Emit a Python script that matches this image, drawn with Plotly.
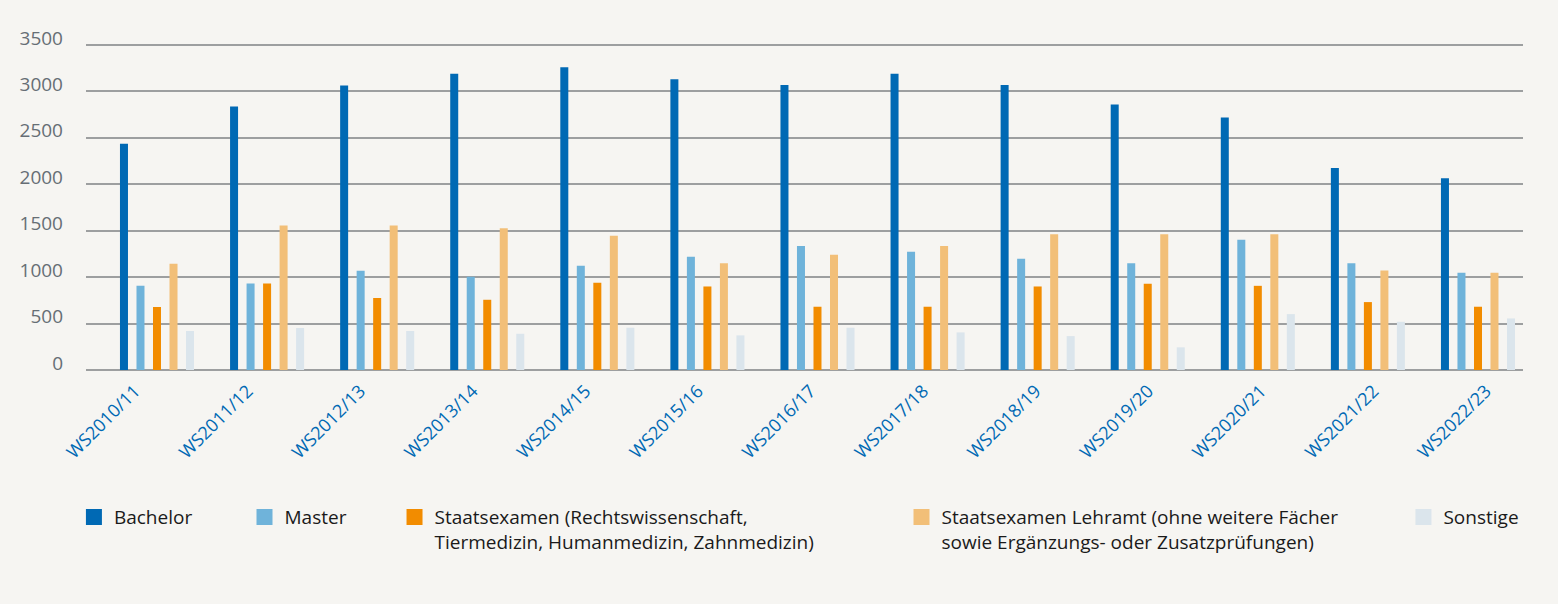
import plotly.graph_objects as go

# Wintersemester
semesters = ["WS2010/11", "WS2011/12", "WS2012/13", "WS2013/14", "WS2014/15",
             "WS2015/16", "WS2016/17", "WS2017/18", "WS2018/19", "WS2019/20",
             "WS2020/21", "WS2021/22", "WS2022/23"]

bachelor = [2435, 2837, 3063, 3188, 3260, 3131, 3067, 3188, 3067, 2859, 2719, 2175, 2063]
master = [907, 932, 1069, 1003, 1121, 1218, 1336, 1272, 1197, 1150, 1401, 1150, 1046]
staatsexamen = [678, 932, 775, 756, 939, 899, 681, 681, 899, 928, 906, 731, 681]
lehramt = [1144, 1556, 1556, 1526, 1444, 1150, 1240, 1336, 1462, 1462, 1462, 1071, 1046]
sonstige = [420, 452, 420, 390, 455, 373, 455, 405, 365, 244, 602, 519, 555]

y_ticks = [0, 500, 1000, 1500, 2000, 2500, 3000, 3500]

series = [
    ("Bachelor", bachelor, "#0069b4"),
    ("Master", master, "#6fb3da"),
    ("Staatsexamen (Rechtswissenschaft,<br>Tiermedizin, Humanmedizin, Zahnmedizin)", staatsexamen, "#f28c00"),
    ("Staatsexamen Lehramt (ohne weitere Fächer<br>sowie Ergänzungs- oder Zusatzprüfungen)", lehramt, "#f2bf78"),
    ("Sonstige", sonstige, "#dbe5ec"),
]

# x position of each legend block (paper coords)
legend_x = [-0.0084, 0.1103, 0.2147, 0.5675, 0.9168]

fig = go.Figure()

for i, (name, values, color) in enumerate(series):
    leg = "legend" if i == 0 else f"legend{i + 1}"
    fig.add_trace(go.Bar(
        x=semesters,
        y=values,
        name=name,
        marker_color=color,
        marker_line_width=0,
        showlegend=False,
        legendgroup=name,
        hovertemplate="%{x}<br>%{y}<extra></extra>",
    ))
    # legend entry with a bigger square symbol
    fig.add_trace(go.Scatter(
        x=[None], y=[None],
        mode="markers",
        name=name,
        marker=dict(symbol="square", size=16, color=color),
        legendgroup=name,
        legend=leg,
    ))

# empty trace that carries the category labels on the second x axis
fig.add_trace(go.Scatter(
    x=semesters, y=[None] * len(semesters),
    xaxis="x2", mode="markers", showlegend=False, hoverinfo="skip",
))

legend_style = dict(
    orientation="h",
    y=-0.392,
    yanchor="top",
    xanchor="left",
    valign="top",
    bgcolor="rgba(0,0,0,0)",
    font=dict(family="Open Sans", size=19, color="#1a1a1a"),
    itemclick=False,
)

layouts = {}
for i, lx in enumerate(legend_x):
    key = "legend" if i == 0 else f"legend{i + 1}"
    layouts[key] = dict(legend_style, x=lx)

fig.update_layout(
    width=1558,
    height=604,
    barmode="group",
    bargap=0.25,
    bargroupgap=0.515,
    margin=dict(l=86, r=35, t=43, b=234),
    plot_bgcolor="#f6f5f2",
    paper_bgcolor="#f6f5f2",
    font=dict(family="Open Sans", color="#666e75"),
    xaxis=dict(
        type="category",
        range=[-0.645, 12.409],
        showgrid=False,
        showline=False,
        showticklabels=False,
        ticks="",
    ),
    xaxis2=dict(
        type="category",
        overlaying="x",
        anchor="y",
        side="bottom",
        range=[-0.435, 12.329],
        showgrid=False,
        showline=False,
        tickangle=-45,
        ticks="",
        ticklabelstandoff=6,
        tickfont=dict(family="Open Sans", size=18, color="#0069b4"),
    ),
    yaxis=dict(
        range=[0, 3520],
        tickvals=y_ticks,
        showgrid=True,
        gridcolor="#9d9fa0",
        gridwidth=2,
        zeroline=True,
        zerolinecolor="#9d9fa0",
        zerolinewidth=2,
        ticks="",
        ticklabelstandoff=22,
        ticklabelshift=-7,
        tickfont=dict(family="Open Sans", size=19, color="#666e75"),
    ),
    **layouts,
)

# drop the page margin so the figure sits at the window corner
fig.write_html(
    "out.html",
    config={"displayModeBar": False},
    post_script="document.body.style.margin='0';document.body.style.background='#f6f5f2';",
)
